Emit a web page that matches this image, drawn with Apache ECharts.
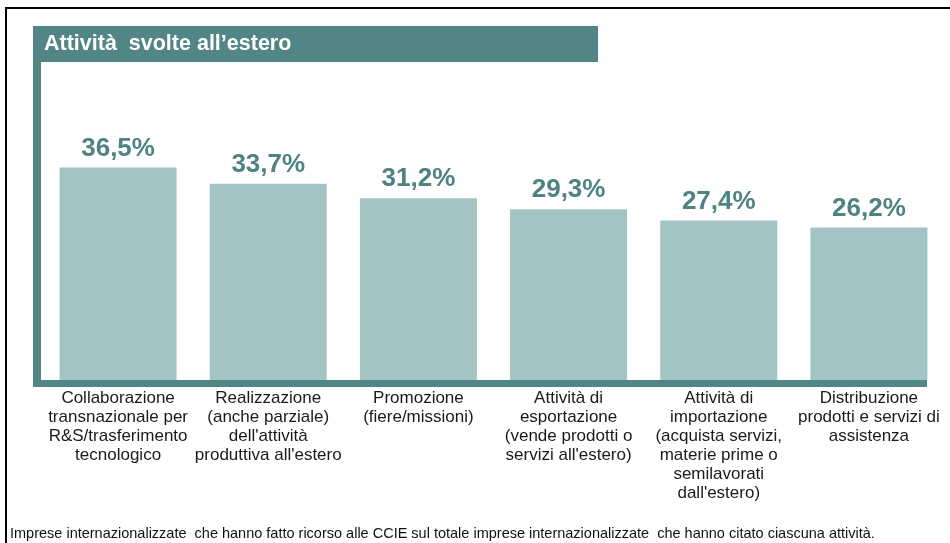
<!DOCTYPE html>
<html>
<head>
<meta charset="utf-8">
<title>Attività svolte all’estero</title>
<script src="https://cdn.jsdelivr.net/npm/echarts@6/dist/echarts.min.js"></script>
<style>
  html, body { margin: 0; padding: 0; background: #ffffff; }
  #chart { width: 950px; height: 543px; }
</style>
</head>
<body>
<div id="chart"></div>
<script>
// Activities carried out abroad: share of internationalised firms (%)
const categories = [
  'Collaborazione\ntransnazionale per\nR&S/trasferimento\ntecnologico',
  'Realizzazione\n(anche parziale)\ndell\'attività\nproduttiva all\'estero',
  'Promozione\n(fiere/missioni)',
  'Attività di\nesportazione\n(vende prodotti o\nservizi all\'estero)',
  'Attività di\nimportazione\n(acquista servizi,\nmaterie prime o\nsemilavorati\ndall\'estero)',
  'Distribuzione\nprodotti e servizi di\nassistenza'
];
const shares = [36.5, 33.7, 31.2, 29.3, 27.4, 26.2];

const chartTitle = 'Attività  svolte all’estero';
const footnote = 'Imprese internazionalizzate  che hanno fatto ricorso alle CCIE sul totale imprese internazionalizzate  che hanno citato ciascuna attività.';

const TEAL = '#528585';
const BAR = '#a3c4c5';
const FONT = '"Liberation Sans", Arial, sans-serif';

const chart = echarts.init(document.getElementById('chart'), null, { renderer: 'canvas' });

chart.setOption({
  animation: false,
  backgroundColor: '#ffffff',
  textStyle: { fontFamily: FONT },
  title: [
    {
      text: chartTitle,
      left: 44,
      top: 33,
      padding: 0,
      textStyle: { color: '#ffffff', fontSize: 21.5, fontWeight: 'bold', fontFamily: FONT }
    },
    {
      text: footnote,
      left: 10,
      top: 526,
      padding: 0,
      textStyle: { color: '#111111', fontSize: 14.5, fontWeight: 'normal', fontFamily: FONT }
    }
  ],
  graphic: [
    // outer frame (top and left edges)
    { type: 'rect', z: 0, shape: { x: 5, y: 7, width: 945, height: 2 }, style: { fill: '#000000' } },
    { type: 'rect', z: 0, shape: { x: 5, y: 7, width: 2, height: 536 }, style: { fill: '#000000' } },
    // title band
    { type: 'rect', z: 0, shape: { x: 33, y: 26, width: 565, height: 36 }, style: { fill: TEAL } },
    // left rule and baseline of the plot
    { type: 'rect', z: 0, shape: { x: 33, y: 26, width: 8, height: 361 }, style: { fill: TEAL } },
    { type: 'rect', z: 10, shape: { x: 33, y: 380, width: 894, height: 7 }, style: { fill: TEAL } }
  ],
  grid: { left: 43, right: 6, top: 147, bottom: 163, containLabel: false },
  xAxis: {
    type: 'category',
    data: categories,
    axisLine: { show: false },
    axisTick: { show: false },
    axisLabel: {
      interval: 0,
      margin: 8.5,
      color: '#1a1a1a',
      fontSize: 17,
      lineHeight: 19,
      fontFamily: FONT,
      align: 'center',
      verticalAlign: 'top'
    }
  },
  yAxis: {
    type: 'value',
    min: 0,
    max: 40,
    show: false,
    splitLine: { show: false }
  },
  series: [
    {
      type: 'bar',
      data: shares,
      barWidth: 117,
      itemStyle: { color: BAR },
      label: {
        show: true,
        position: 'top',
        distance: 6,
        color: '#4f8383',
        fontSize: 26,
        fontWeight: 'bold',
        fontFamily: FONT,
        formatter: p => p.value.toFixed(1).replace('.', ',') + '%'
      }
    }
  ]
});
</script>
</body>
</html>
